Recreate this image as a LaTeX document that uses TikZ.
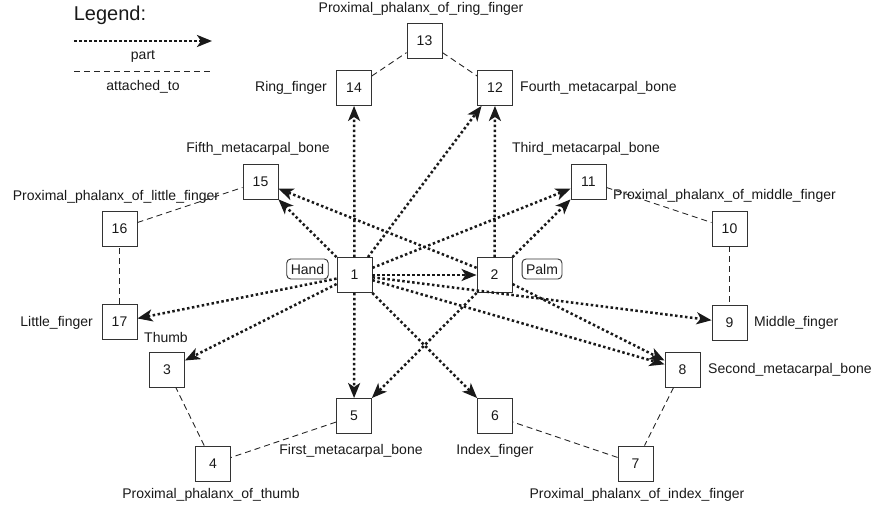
\documentclass[tikz,border=0pt]{standalone}
\usepackage{fontspec}
\setmainfont{Liberation Sans}
\usetikzlibrary{arrows.meta}
\begin{document}
\begin{tikzpicture}[x=1pt,y=-1pt,
  every node/.style={text=black!90},
  nbox/.style={draw=black!80,line width=0.9pt,minimum size=35pt,inner sep=0pt,font=\fontsize{14}{16}\selectfont},
  lbl/.style={inner sep=0pt,font=\fontsize{14}{16}\selectfont},
  tag/.style={draw=black!80,rounded corners=4pt,line width=0.9pt,minimum height=20pt,inner xsep=4pt,inner ysep=2.5pt,font=\fontsize{14}{16}\selectfont},
  partedge/.style={draw=black!90,line width=2.5pt,dash pattern=on 2.5pt off 2.5pt,-{Stealth[length=15pt,width=12pt,inset=4pt]}},
  attedge/.style={draw=black!85,line width=0.9pt,dash pattern=on 6pt off 4pt}]
\useasboundingbox (0,0) rectangle (874,509);

% legend
\node[inner sep=0pt,font=\fontsize{20}{22}\selectfont] (leg) at (110,15) {Legend:};
\coordinate (pa) at (74,41);
\coordinate (pb) at (212,41);
\draw[partedge] (pa) -- (pb);
\node[lbl] (lpart) at (143,56) {part};
\coordinate (aa) at (74,71);
\coordinate (ab) at (212,71);
\draw[attedge] (aa) -- (ab);
\node[lbl] (latt) at (143,87) {attached\_to};

% nodes
\node[nbox] (n1) at (354.5,275) {1};
\node[nbox] (n2) at (494.5,275) {2};
\node[nbox] (n3) at (167,369.5) {3};
\node[nbox] (n4) at (213,463.5) {4};
\node[nbox] (n5) at (354,416) {5};
\node[nbox] (n6) at (495,416) {6};
\node[nbox] (n7) at (635.5,463.5) {7};
\node[nbox] (n8) at (682.5,369.5) {8};
\node[nbox] (n9) at (729.5,322.5) {9};
\node[nbox] (n10) at (729.5,228.5) {10};
\node[nbox] (n11) at (588.5,181.5) {11};
\node[nbox] (n12) at (495,88) {12};
\node[nbox] (n13) at (424.5,40.5) {13};
\node[nbox] (n14) at (354,88) {14};
\node[nbox] (n15) at (260.5,181.5) {15};
\node[nbox] (n16) at (119.5,228.5) {16};
\node[nbox] (n17) at (119.5,322) {17};

% tags
\node[tag] (hand) at (307.5,269) {Hand};
\node[tag] (palm) at (542,269) {Palm};

% attached_to edges
\draw[attedge] (n14) -- (n13);
\draw[attedge] (n13) -- (n12);
\draw[attedge] (n11) -- (n10);
\draw[attedge] (n10) -- (n9);
\draw[attedge] (n8) -- (n7);
\draw[attedge] (n7) -- (n6);
\draw[attedge] (n5) -- (n4);
\draw[attedge] (n4) -- (n3);
\draw[attedge] (n17) -- (n16);
\draw[attedge] (n16) -- (n15);

% part edges
\foreach \t in {n14,n12,n15,n11,n2,n17,n3,n5,n6,n9,n8}{
  \draw[partedge] (n1) -- (\t);
}
\foreach \t in {n12,n11,n15,n5,n8}{
  \draw[partedge] (n2) -- (\t);
}

% labels
\node[lbl] (t13) at (421,9) {Proximal\_phalanx\_of\_ring\_finger};
\node[lbl,anchor=east] (t14) at (327,88) {Ring\_finger};
\node[lbl,anchor=west] (t12) at (520,88) {Fourth\_metacarpal\_bone};
\node[lbl] (t15) at (258,149) {Fifth\_metacarpal\_bone};
\node[lbl] (t11) at (586,149) {Third\_metacarpal\_bone};
\node[lbl] (t16) at (116,197) {Proximal\_phalanx\_of\_little\_finger};
\node[lbl,anchor=west] (t10) at (613,196) {Proximal\_phalanx\_of\_middle\_finger};
\node[lbl,anchor=east] (t17) at (93,323) {Little\_finger};
\node[lbl,anchor=west] (t9) at (754,322.5) {Middle\_finger};
\node[lbl,anchor=west] (t3) at (144,337) {Thumb};
\node[lbl,anchor=west] (t8) at (708,369.5) {Second\_metacarpal\_bone};
\node[lbl] (t5) at (351,451) {First\_metacarpal\_bone};
\node[lbl] (t6) at (495,451) {Index\_finger};
\node[lbl] (t4) at (211,495) {Proximal\_phalanx\_of\_thumb};
\node[lbl] (t7) at (637,495) {Proximal\_phalanx\_of\_index\_finger};
\end{tikzpicture}
\end{document}
